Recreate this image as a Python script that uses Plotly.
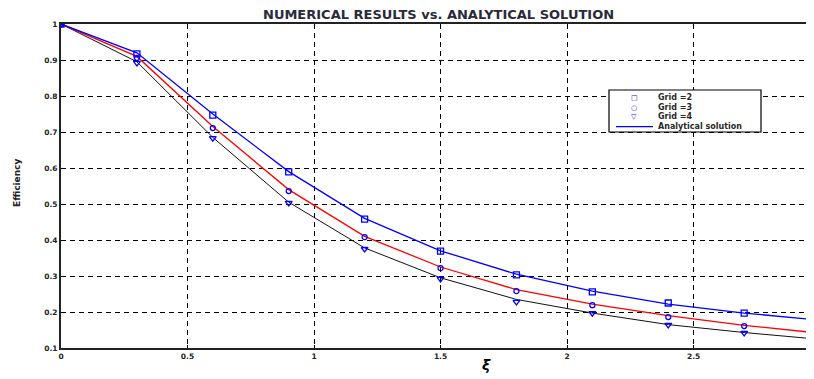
import plotly.graph_objects as go

# marker data
xm = [0, 0.3, 0.6, 0.9, 1.2, 1.5, 1.8, 2.1, 2.4, 2.7]
grid2 = [1.0, 0.917, 0.747, 0.589, 0.458, 0.369, 0.303, 0.256, 0.225, 0.197]
grid3 = [1.0, 0.906, 0.711, 0.536, 0.408, 0.322, 0.258, 0.219, 0.186, 0.161]
grid4 = [1.0, 0.892, 0.683, 0.503, 0.375, 0.292, 0.228, 0.197, 0.164, 0.142]

# analytical curves
xl = [0, 0.3, 0.6, 0.9, 1.2, 1.5, 1.8, 2.1, 2.4, 2.7, 3.0]
ana_blue = [1.0, 0.92, 0.75, 0.59, 0.46, 0.37, 0.305, 0.258, 0.222, 0.197, 0.177]
ana_red = [1.0, 0.91, 0.715, 0.54, 0.41, 0.325, 0.262, 0.222, 0.19, 0.163, 0.141]
ana_black = [1.0, 0.895, 0.685, 0.505, 0.378, 0.295, 0.235, 0.197, 0.165, 0.143, 0.124]

xticks = [0, 0.5, 1, 1.5, 2, 2.5]
xticklabels = ["0", "0.5", "1", "1.5", "2", "2.5"]
yticks = [0.1, 0.2, 0.3, 0.4, 0.5, 0.6, 0.7, 0.8, 0.9, 1]
yticklabels = ["0.1", "0.2", "0.3", "0.4", "0.5", "0.6", "0.7", "0.8", "0.9", "1"]

legend_names = ["Grid =2", "Grid =3", "Grid =4", "Analytical solution"]
legend_symbols = ["□", "○", "▽"]

FONT = "DejaVu Sans"

fig = go.Figure()
fig.add_trace(go.Scatter(x=xl, y=ana_black, mode="lines", line=dict(color="#111", width=1), showlegend=False))
fig.add_trace(go.Scatter(x=xl, y=ana_red, mode="lines", line=dict(color="red", width=1.3), showlegend=False))
fig.add_trace(go.Scatter(x=xl, y=ana_blue, mode="lines", line=dict(color="blue", width=1.3), showlegend=False))
fig.add_trace(go.Scatter(x=xm, y=grid2, mode="markers", showlegend=False,
                         marker=dict(symbol="square-open", color="blue", size=6, line=dict(width=1.3))))
fig.add_trace(go.Scatter(x=xm, y=grid3, mode="markers", showlegend=False,
                         marker=dict(symbol="circle-open", color="blue", size=5, line=dict(width=1.3))))
fig.add_trace(go.Scatter(x=xm, y=grid4, mode="markers", showlegend=False,
                         marker=dict(symbol="triangle-down-open", color="blue", size=6, line=dict(width=1.3))))

# page body has an 8px margin: compensate
W, H = 806, 371
L, T, B = 53, 16, 31
PX0, PY0, PW, PH = 61, 24, 753, 324


def px(xp):
    return (xp - PX0) / PW


def py(yp):
    return (PY0 + PH - yp) / PH


annotations = [
    dict(text="<b>NUMERICAL RESULTS vs. ANALYTICAL SOLUTION</b>", x=px(438), y=py(14), xref="paper", yref="paper",
         showarrow=False, xanchor="center", yanchor="middle",
         font=dict(family=FONT, size=13, color="#2a2a3a")),
    dict(text="<b>Efficiency</b>", x=px(17), y=py(183), xref="paper", yref="paper", textangle=-90,
         showarrow=False, xanchor="center", yanchor="middle", font=dict(family=FONT, size=9, color="#222")),
    dict(text="<b><i>ξ</i></b>", x=px(486), y=py(365), xref="paper", yref="paper",
         showarrow=False, xanchor="center", yanchor="middle", font=dict(family=FONT, size=14, color="black")),
]

# manual compact legend
row_y = [97.7, 107.7, 116.7, 126.7]
shapes = [dict(type="rect", xref="paper", yref="paper", x0=px(609), x1=px(761), y0=py(132), y1=py(90),
               line=dict(color="black", width=1.2), fillcolor="white", layer="above")]
for i, name in enumerate(legend_names):
    annotations.append(dict(text="<b>" + name + "</b>", x=px(656), y=py(row_y[i]), xref="paper", yref="paper",
                            showarrow=False, xanchor="left", yanchor="middle",
                            font=dict(family=FONT, size=8, color="#2a2a2a")))
for i, sym in enumerate(legend_symbols):
    annotations.append(dict(text="<b>" + sym + "</b>", x=px(634), y=py(row_y[i]), xref="paper", yref="paper",
                            showarrow=False, xanchor="center", yanchor="middle",
                            font=dict(family=FONT, size=7, color="blue")))
shapes.append(dict(type="line", xref="paper", yref="paper", x0=px(616), x1=px(653), y0=py(row_y[3]),
                   y1=py(row_y[3]), line=dict(color="blue", width=1.3), layer="above"))

axis_common = dict(showgrid=True, gridcolor="black", griddash="5px,4px", gridwidth=1,
                   showline=True, linecolor="#222", linewidth=2, mirror=True,
                   ticks="inside", ticklen=3, tickcolor="black", zeroline=False,
                   tickfont=dict(size=7.5, family=FONT, color="#222"))

fig.update_layout(
    width=W, height=H,
    margin=dict(l=L, r=0, t=T, b=B, autoexpand=False),
    paper_bgcolor="white", plot_bgcolor="white",
    font=dict(family=FONT, color="black", size=7),
    showlegend=False,
    xaxis=dict(range=[0, 2.976], tickvals=xticks, ticktext=["<b>" + t + "</b>" for t in xticklabels], **axis_common),
    yaxis=dict(range=[0.1, 1], tickvals=yticks, ticktext=["<b>" + t + "</b>" for t in yticklabels], **axis_common),
    annotations=annotations,
    shapes=shapes,
)
fig.write_html("out.html")
